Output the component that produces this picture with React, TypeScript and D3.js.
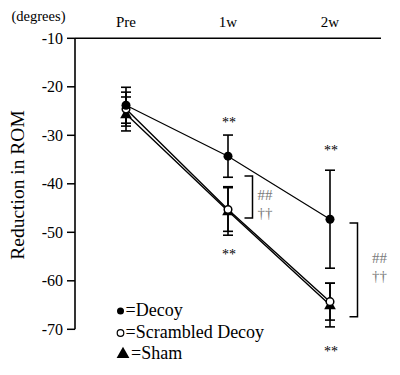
import React from "react";
import * as d3 from "d3";

const categories = ["Pre", "1w", "2w"];
const decoyMean = [-23.8, -34.3, -47.3];
const decoyErr = [3.7, 4.35, 10.1];
const scrambledMean = [-24.6, -45.3, -64.3];
const scrambledErr = [3.5, 4.5, 3.8];
const shamMean = [-25.6, -45.6, -65.0];
const shamErr = [3.5, 5.0, 4.5];
const yTicks = [-10, -20, -30, -40, -50, -60, -70];

// significance annotations: [category, value]
const starMarks: [string, number][] = [
  ["1w", -26.9],
  ["1w", -54.2],
  ["2w", -32.8],
  ["2w", -74.2],
];
// brackets: [category, top value, bottom value]
const brackets: [string, number, number][] = [
  ["1w", -38.4, -47.05],
  ["2w", -48.1, -67.4],
];
const legendLabels = ["=Decoy", "=Scrambled Decoy", "=Sham"];

const W = 400;
const H = 375;
const FONT = "'Liberation Serif', 'Times New Roman', serif";

// per-bracket layout (offsets in px)
const bracketLayout = [
  { dx: 24.5, tx: 12.5, hashDy: 3, dagDy: 20.5 },
  { dx: 27.5, tx: 22, hashDy: -7, dagDy: 11 },
];

export default function App() {
  const x = d3.scalePoint<string>().domain(categories).range([75, 381]).padding(0.5);
  const y = d3.scaleLinear().domain([-10, -70]).range([38.3, 329.3]);

  const line = d3
    .line<number>()
    .x((_, i) => x(categories[i]) as number)
    .y((d) => y(d));

  const errBars = (means: number[], errs: number[], key: string) =>
    means.map((m, i) => {
      const cx = x(categories[i]) as number;
      const t = y(m + errs[i]);
      const b = y(m - errs[i]);
      return (
        <g key={key + i} stroke="#000" strokeWidth={1.6}>
          <line x1={cx} x2={cx} y1={t} y2={b} />
          <line x1={cx - 5} x2={cx + 5} y1={t} y2={t} />
          <line x1={cx - 5} x2={cx + 5} y1={b} y2={b} />
        </g>
      );
    });

  const tri = (cx: number, cy: number, s: number) =>
    `M${cx},${cy - s * 0.62} L${cx + s * 0.58},${cy + s * 0.42} L${cx - s * 0.58},${cy + s * 0.42} Z`;

  return (
    <svg
      width={W}
      height={H}
      style={{ position: "absolute", left: 0, top: 0, background: "#fff" }}
      fontFamily={FONT}
    >
      <rect width={W} height={H} fill="#fff" />
      {/* axes */}
      <line x1={75} x2={381} y1={y(-10)} y2={y(-10)} stroke="#000" strokeWidth={1.6} />
      <line x1={75} x2={75} y1={y(-10)} y2={y(-70)} stroke="#000" strokeWidth={1.6} />
      {yTicks.map((t) => (
        <g key={t}>
          <line x1={67} x2={75} y1={y(t)} y2={y(t)} stroke="#000" strokeWidth={1.5} />
          <text x={63} y={y(t)} dy="0.35em" textAnchor="end" fontSize={16} fill="#000">
            {t}
          </text>
        </g>
      ))}
      {categories.map((c) => (
        <text key={c} x={x(c) as number} y={26.5} textAnchor="middle" fontSize={15} fill="#000">
          {c}
        </text>
      ))}
      <text x={38.5} y={20.5} textAnchor="middle" fontSize={14.5} fill="#000">
        (degrees)
      </text>
      <text
        transform={`translate(24,185) rotate(-90)`}
        textAnchor="middle"
        fontSize={19.5}
        fill="#000"
      >
        Reduction in ROM
      </text>

      {/* lines */}
      <path d={line(decoyMean) || ""} fill="none" stroke="#000" strokeWidth={1.2} />
      <path d={line(shamMean) || ""} fill="none" stroke="#000" strokeWidth={1.4} />
      <path d={line(scrambledMean) || ""} fill="none" stroke="#000" strokeWidth={1.4} />

      {/* error bars */}
      {errBars(decoyMean, decoyErr, "d")}
      {errBars(scrambledMean, scrambledErr, "s")}
      {errBars(shamMean, shamErr, "h")}

      {/* markers */}
      {shamMean.map((m, i) => (
        <path key={"ht" + i} d={tri(x(categories[i]) as number, y(m), 10)} fill="#000" />
      ))}
      {scrambledMean.map((m, i) => (
        <circle
          key={"sc" + i}
          cx={x(categories[i]) as number}
          cy={y(m)}
          r={3.8}
          fill="#fff"
          stroke="#000"
          strokeWidth={1.5}
        />
      ))}
      {decoyMean.map((m, i) => (
        <circle key={"dc" + i} cx={x(categories[i]) as number} cy={y(m)} r={4.5} fill="#000" />
      ))}

      {/* significance stars */}
      {starMarks.map(([c, v], i) => (
        <text
          key={"st" + i}
          x={(x(c) as number) + 1}
          y={y(v) + 6.5}
          textAnchor="middle"
          fontSize={14}
          fill="#000"
        >
          **
        </text>
      ))}

      {/* brackets */}
      {brackets.map(([c, top, bot], i) => {
        const L = bracketLayout[i];
        const bx = (x(c) as number) + L.dx;
        const yt = y(top);
        const yb = y(bot);
        const ym = (yt + yb) / 2;
        return (
          <g key={"br" + i}>
            <path
              d={`M${bx - 8},${yt} L${bx},${yt} L${bx},${yb} L${bx - 8},${yb}`}
              fill="none"
              stroke="#000"
              strokeWidth={1.5}
            />
            <text x={bx + L.tx} y={ym + L.hashDy} textAnchor="middle" fontSize={15} fill="#7a7a7a">
              ##
            </text>
            <text x={bx + L.tx} y={ym + L.dagDy} textAnchor="middle" fontSize={15} fill="#7a7a7a">
              ††
            </text>
          </g>
        );
      })}

      {/* legend */}
      <circle cx={120.5} cy={311} r={3.5} fill="#000" />
      <circle cx={120.5} cy={333} r={3.3} fill="#fff" stroke="#000" strokeWidth={1.2} />
      <path d={tri(123, 353.5, 11)} fill="#000" />
      {legendLabels.map((l, i) => (
        <text key={l} x={i === 2 ? 131 : 125.5} y={316 + i * 21.7} fontSize={18} fill="#000">
          {l}
        </text>
      ))}
    </svg>
  );
}
